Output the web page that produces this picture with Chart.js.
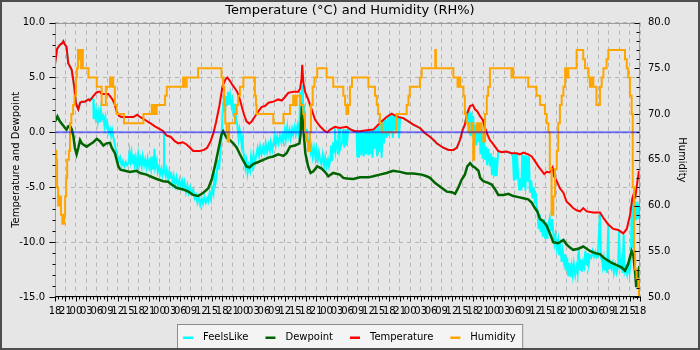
<!DOCTYPE html>
<html>
<head>
<meta charset="utf-8">
<title>Temperature and Humidity</title>
<script src="https://cdn.jsdelivr.net/npm/chart.js@4/dist/chart.umd.min.js"></script>
<style>
  html, body { margin: 0; padding: 0; background: #e6e6e6; }
  canvas { display: block; }
</style>
</head>
<body>
<canvas id="weather" width="700" height="350"></canvas>
<script>
// Hours since the first reading (18:00), seven days in all.
const hourTickLabels = [
  '18','21','00','03','06','09','12','15',
  '18','21','00','03','06','09','12','15',
  '18','21','00','03','06','09','12','15',
  '18','21','00','03','06','09','12','15',
  '18','21','00','03','06','09','12','15',
  '18','21','00','03','06','09','12','15',
  '18','21','00','03','06','09','12','15',
  '18'
];

const seriesLabels = ['FeelsLike', 'Dewpoint', 'Temperature', 'Humidity'];

// [hour, °C]
const temperature = [
  [0,6.2],[0.3,6.9],[0.6,7.6],[1,7.8],[1.5,8.0],[2,8.1],[2.4,8.3],[2.8,8.0],[3.3,7.8],[3.8,6.3],
  [4.3,6.0],[4.8,5.7],[5.5,4.2],[6,2.7],[6.4,2.3],[6.7,2.1],[7.2,2.7],[7.7,2.8],[8.6,2.8],[9.6,3.0],
  [10,2.9],[10.5,3.1],[11,3.3],[11.8,3.6],[12.4,3.7],[12.9,3.7],[13.4,3.5],[15.3,3.5],[15.8,3.3],[16.5,3.0],
  [17.2,2.5],[17.7,1.9],[18.4,1.5],[19.1,1.4],[22.5,1.4],[23.6,1.6],[24.4,1.4],[25.8,1.15],[27.3,0.85],[28.7,0.55],
  [30.1,0.3],[31.1,0.1],[32.1,-0.3],[33.2,-0.4],[34.4,-0.8],[35.4,-1.0],[36.7,-0.9],[37.8,-1.1],[38.8,-1.4],[39.7,-1.7],
  [41.6,-1.7],[42.8,-1.6],[43.7,-1.4],[44.7,-0.8],[45.5,-0.06],[46.2,0.85],[47.2,2.4],[48.1,4.2],[49,4.85],[49.5,5.0],
  [50.2,4.7],[51,4.3],[51.7,4.0],[52.3,3.7],[53.1,3.0],[53.6,2.4],[54.3,1.6],[55,1.0],[55.8,0.8],[56.5,1.0],
  [57.4,1.45],[58.4,1.9],[59.3,2.3],[60.3,2.4],[61.3,2.7],[62.7,2.8],[64.1,3.0],[65.1,2.9],[66,3.2],[67,3.6],
  [68.4,3.7],[69.9,3.7],[70.4,4.0],[70.8,4.9],[71,6.15],[71.3,4.6],[71.8,3.7],[72.7,3.0],[73.7,2.1],[74.7,1.15],
  [76.1,0.55],[77.5,0.1],[78.2,0.0],[79,0.25],[80.4,0.5],[81.8,0.4],[83.8,0.5],[84.7,0.3],[86.1,0.1],[87.6,0.1],
  [89.5,0.2],[91.4,0.25],[92.4,0.55],[93.8,1.0],[95.2,1.4],[96.7,1.7],[97.3,1.6],[98.6,1.4],[100,1.3],[101.5,1.0],
  [102.9,0.7],[104.8,0.4],[106.2,-0.06],[107.7,-0.4],[109.1,-0.8],[109.6,-1.0],[111.5,-1.4],[113,-1.6],[114.4,-1.6],[115.4,-1.4],
  [116.3,-0.7],[117.1,0.25],[117.7,0.7],[118.4,1.75],[119.2,2.4],[120,2.5],[120.6,2.1],[121.3,1.9],[122.1,1.45],[122.8,1.15],
  [123.5,0.4],[124.2,-0.2],[124.9,-0.7],[125.9,-1.1],[127.3,-1.7],[128.3,-1.8],[129.7,-1.75],[131.1,-1.9],[132.6,-1.9],[133.5,-2.0],
  [134.5,-1.85],[135.9,-2.0],[136.9,-2.2],[137.8,-2.6],[138.8,-3.1],[139.8,-3.5],[140.5,-3.8],[141.2,-3.6],[142.1,-3.65],[142.9,-3.2],
  [143.3,-4.0],[144.1,-4.45],[145,-5.1],[146,-5.5],[146.9,-6.3],[147.9,-6.6],[148.8,-6.9],[149.8,-7.1],[150.8,-7.2],[151.7,-6.9],
  [152.7,-7.2],[154.6,-7.3],[156.5,-7.3],[157.5,-7.8],[158.9,-8.4],[160.3,-8.8],[161.8,-8.9],[163.2,-9.2],[164.2,-8.8],[165.1,-7.6],
  [165.8,-6.0],[166.3,-5.5],[166.7,-5.8],[167.2,-4.6],[167.7,-3.5]
];

// [hour, °C]
const dewpoint = [
  [0,1.0],[0.3,1.15],[0.7,1.45],[1.4,1.0],[2.4,0.6],[2.9,0.4],[3.3,0.25],[3.8,0.55],[4.3,0.6],[4.8,0.3],
  [5.3,-0.4],[5.7,-1.4],[6.2,-2.0],[6.7,-1.4],[7.2,-0.7],[7.7,-1.0],[8.1,-1.1],[9.1,-1.3],[10,-1.1],[11,-0.9],
  [12,-0.6],[12.9,-0.8],[13.9,-1.2],[14.8,-1.0],[15.8,-0.95],[16.3,-1.4],[17.2,-1.9],[17.7,-2.5],[18.2,-3.1],[18.8,-3.4],
  [20.1,-3.5],[21.5,-3.6],[23.4,-3.5],[24.4,-3.7],[26.3,-3.85],[27.3,-4.0],[29.2,-4.25],[31.1,-4.45],[32.5,-4.5],[33.5,-4.75],
  [34.9,-5.05],[36.8,-5.2],[38.3,-5.4],[39.7,-5.7],[41.1,-5.8],[42.6,-5.5],[44,-5.1],[45,-4.3],[45.9,-3.1],[46.9,-1.6],
  [47.8,-0.2],[48.3,0.1],[49.3,-0.5],[50.2,-0.7],[51.2,-1.0],[52.2,-1.4],[53.1,-2.0],[54.1,-2.6],[55,-3.1],[55.8,-3.2],
  [56.9,-2.9],[58.4,-2.7],[59.8,-2.5],[61.3,-2.3],[62.7,-2.2],[64.1,-2.0],[65.6,-2.15],[66.5,-1.9],[67.5,-1.3],[68.9,-1.2],
  [70.2,-1.0],[70.5,-0.2],[70.8,1.75],[71.1,1.15],[71.5,-0.4],[71.9,-1.9],[72.7,-3.1],[73.4,-3.7],[74.2,-3.55],[75.3,-3.1],
  [76.6,-3.3],[77.8,-3.7],[78.5,-4.0],[79.9,-3.7],[81.8,-3.85],[82.8,-4.15],[83.8,-4.2],[85.7,-4.25],[87.6,-4.1],[90,-4.1],
  [91.4,-4.0],[93.3,-3.85],[95.2,-3.7],[97.1,-3.5],[99.1,-3.6],[101,-3.75],[102.9,-3.75],[105.3,-3.85],[106.7,-4.0],[107.7,-4.15],
  [109.1,-4.6],[111,-5.05],[112.5,-5.4],[114,-5.45],[114.9,-5.6],[115.8,-5.05],[116.8,-4.3],[117.7,-3.85],[118.4,-3.1],[119.2,-2.8],
  [120,-3.1],[120.6,-3.2],[121.6,-3.5],[122.1,-4.15],[123,-4.45],[124.4,-4.6],[125.4,-4.75],[126.4,-5.2],[127.3,-5.7],[128.8,-5.7],
  [130.2,-5.6],[131.6,-5.8],[133.1,-5.9],[134.5,-6.0],[135.9,-6.1],[136.9,-6.4],[137.8,-6.9],[138.5,-7.2],[139.3,-7.9],[140.2,-8.1],
  [141.2,-8.5],[142.1,-9.2],[143.1,-10.0],[144.5,-10.1],[146,-9.8],[146.9,-10.2],[147.9,-10.5],[148.8,-10.7],[150.3,-10.6],[151.7,-10.4],
  [152.7,-10.6],[153.6,-10.8],[155.1,-11.0],[156.5,-11.1],[157.5,-11.4],[158.4,-11.6],[159.9,-11.9],[161.3,-12.1],[162.7,-12.3],[163.7,-12.6],
  [164.6,-12.0],[165.6,-10.8],[166.1,-11.2],[166.6,-12.8],[166.9,-14.0],[167.2,-14.0],[167.5,-12.8],[167.8,-12.2]
];

// [hour, °C]
const feelsLike = [
  [0,6.2],[0.6,7.6],[1,7.8],[2,8.1],[2.4,8.3],[3.3,7.8],[3.8,6.3],[4.8,5.7],[5.5,4.2],[6,2.7],
  [6.7,2.1],[7.2,2.7],[8.6,2.8],[9.6,3.0],[10.5,3.1],[11,3.0],[11.1,1.2],[11.4,2.0],[11.7,1.3],[12,1.9],
  [12.3,1.0],[12.6,1.8],[12.9,0.9],[13.2,2.0],[13.5,1.2],[13.9,1.5],[14.2,0.6],[14.5,1.3],[14.8,0.5],[15.1,0.7],
  [15.4,0.0],[15.8,0.3],[16.1,-0.3],[16.4,0.2],[16.7,-0.4],[17,-0.8],[17.3,-1.3],[17.7,-1.9],[18,-2.2],[18.4,-2.6],
  [18.7,-2.3],[19.1,-3.0],[19.5,-2.6],[19.9,-3.1],[20.3,-2.7],[20.7,-3.0],[21.1,-2.8],[21.4,-1.8],[21.7,-2.6],[22,-1.9],
  [22.3,-2.9],[22.6,-2.0],[22.9,-3.0],[23.2,-2.3],[23.6,-3.2],[23.9,-2.1],[24.2,-2.9],[24.5,-2.4],[24.9,-3.1],[25.2,-2.2],
  [25.6,-3.0],[25.9,-2.5],[26.3,-3.2],[26.6,-2.4],[27,-3.1],[27.3,-2.6],[27.6,-3.3],[27.9,-2.2],[28.2,-3.4],[28.6,-1.5],
  [28.8,-3.2],[29.2,-2.6],[29.5,-3.6],[29.9,-3.1],[30.2,-3.8],[30.6,-3.3],[30.9,-3.9],[31.2,-3.5],[31.3,0.0],[31.4,-3.4],
  [31.8,-4.0],[32.1,-3.4],[32.5,-4.2],[32.8,-3.6],[33,-4.1],[33.4,-3.8],[33.8,-4.6],[34.1,-4.0],[34.5,-4.8],[34.9,-4.1],
  [35.3,-4.9],[35.7,-4.3],[36.1,-4.9],[36.5,-4.4],[36.8,-5.0],[37.2,-4.5],[37.6,-5.4],[38,-4.8],[38.4,-5.5],[38.8,-5.0],
  [39.2,-5.6],[39.7,-5.2],[40.1,-6.0],[40.5,-5.7],[40.9,-6.4],[41.3,-5.9],[41.7,-6.6],[42.1,-6.0],[42.5,-6.5],[42.9,-5.9],
  [43.3,-6.4],[43.7,-6.0],[44,-6.3],[44.4,-5.5],[44.8,-6.1],[45.1,-5.1],[45.5,-5.6],[45.8,-4.0],[46.1,-4.6],[46.4,-3.9],
  [46.8,-2.5],[47.1,-3.4],[47.5,-1.8],[47.8,-0.6],[48.1,1.6],[48.4,2.8],[48.8,1.8],[49.1,3.3],[49.4,2.4],[49.7,3.7],
  [50,2.5],[50.3,3.4],[50.7,2.4],[51,2.9],[51.3,1.4],[51.7,2.6],[52,1.2],[52.4,0.6],[52.7,-0.5],[53,0.3],
  [53.3,-0.2],[53.6,-1.2],[53.9,-0.6],[54.1,-1.8],[54.4,-2.3],[54.7,-3.2],[55,-2.6],[55.3,-3.7],[55.6,-3.0],[56,-3.5],
  [56.3,-2.2],[56.7,-3.0],[57,-2.0],[57.4,-2.8],[57.9,-1.9],[58.2,-1.4],[58.6,-2.1],[58.9,-1.3],[59.3,-2.0],[59.8,-1.3],
  [60.2,-1.8],[60.5,-1.0],[60.9,-1.8],[61.3,-1.1],[61.7,-1.7],[62,-0.9],[62.4,-1.6],[62.7,-1.0],[63.1,-0.3],[63.4,-1.1],
  [63.8,-0.4],[64.2,-1.0],[64.6,-0.3],[65,-0.9],[65.3,-0.3],[65.6,-0.8],[66,0.2],[66.3,-0.6],[66.7,0.5],[67,-0.4],
  [67.4,0.2],[67.7,-0.5],[68.1,0.3],[68.4,-0.2],[68.8,0.5],[69.2,-0.1],[69.6,0.6],[69.9,0.0],[70.2,1.0],[70.4,3.7],
  [70.6,2.0],[70.8,3.2],[71,4.3],[71.2,1.4],[71.5,2.5],[71.8,0.6],[72.1,-0.3],[72.3,0.3],[72.7,-1.0],[73,-0.8],
  [73.4,-1.8],[73.7,-1.3],[74,-2.2],[74.4,-1.4],[74.8,-2.4],[75.1,-1.6],[75.5,-2.5],[75.8,-1.8],[76.1,-2.4],[76.5,-2.9],
  [76.9,-2.0],[77.3,-3.0],[77.6,-2.3],[78,-3.1],[78.4,-2.5],[78.7,-3.1],[79,-2.6],[79.3,-1.2],[79.6,-2.6],[79.9,-0.9],
  [80.2,-1.8],[80.4,0.4],[80.6,-1.7],[81,-1.0],[81.4,-1.6],[81.6,0.3],[81.8,-1.6],[82.4,-1.0],[82.8,0.3],[83.1,-1.4],
  [83.5,0.3],[83.8,-1.2],[84.2,0.2],[84.7,0.3],[86.1,0.1],[86.6,0.1],[86.8,-2.2],[87,0.0],[87.3,-2.3],[87.6,0.1],
  [88,-2.1],[88.3,0.1],[88.7,-2.2],[89,0.1],[89.3,-2.0],[89.6,0.2],[90,-2.1],[90.3,0.2],[90.6,-2.0],[90.9,0.2],
  [91.2,-2.3],[91.5,0.2],[91.8,-1.5],[92.1,0.4],[92.5,-2.2],[92.8,0.6],[93.1,-1.8],[93.5,0.8],[93.8,-2.3],[94.2,1.0],
  [94.5,-1.0],[94.8,1.2],[95.2,-0.5],[95.5,1.4],[95.8,-0.3],[96.1,1.6],[96.4,0.0],[96.7,1.7],[97,-0.5],[97.4,1.6],
  [97.7,0.2],[98.1,1.5],[98.6,1.4],[98.8,-0.5],[99.1,1.3],[100,1.3],[101.5,1.0],[102.9,0.7],[104.8,0.4],[106.2,-0.06],
  [107.7,-0.4],[109.6,-1.0],[111.5,-1.4],[113,-1.6],[114.4,-1.6],[115.4,-1.4],[116.3,-0.7],[117.1,0.25],[117.7,0.7],[118.4,1.75],
  [118.7,1.0],[119,2.0],[119.3,-0.3],[119.6,1.8],[119.9,-0.4],[120.1,1.5],[120.4,-1.1],[120.7,0.7],[121,-1.2],[121.3,0.5],
  [121.6,-0.9],[121.9,0.4],[122.2,-2.0],[122.5,0.2],[122.8,-2.4],[123.1,-0.5],[123.5,-2.5],[123.8,-1.3],[124.1,-3.0],[124.4,-1.5],
  [124.9,-3.1],[125.2,-1.9],[125.5,-3.9],[125.8,-2.2],[126.2,-4.0],[126.5,-2.3],[126.8,-4.0],[127.3,-1.7],[128.3,-1.8],[129.7,-1.8],
  [131.1,-1.9],[131.5,-2.2],[131.8,-4.4],[132.1,-1.9],[132.4,-4.3],[132.7,-2.0],[133,-4.0],[133.3,-5.3],[133.6,-4.2],[133.9,-5.3],
  [134.2,-2.0],[134.5,-5.0],[134.8,-2.1],[135.1,-5.3],[135.4,-2.1],[135.8,-4.5],[136.1,-2.2],[136.4,-5.5],[136.8,-4.4],[137.1,-6.0],
  [137.5,-5.0],[137.8,-6.5],[138.1,-5.5],[138.3,-6.7],[138.6,-7.2],[138.9,-8.8],[139.2,-7.5],[139.5,-9.1],[139.8,-8.0],[140.1,-9.5],
  [140.4,-7.9],[140.8,-9.7],[141.1,-8.2],[141.4,-9.7],[141.7,-8.5],[142.1,-7.8],[142.4,-9.0],[142.8,-7.9],[143.1,-9.2],[143.4,-10.1],
  [143.7,-9.4],[144.1,-10.6],[144.5,-9.8],[144.8,-11.2],[145.1,-10.4],[145.5,-11.8],[145.8,-10.8],[146.2,-11.9],[146.5,-11.1],[146.8,-12.6],
  [147.1,-11.4],[147.4,-13.1],[147.8,-11.9],[148.1,-13.2],[148.4,-12.2],[148.7,-13.0],[149,-12.0],[149.4,-13.0],[149.8,-12.2],[150.1,-12.8],
  [150.4,-10.7],[150.8,-12.6],[151.1,-11.6],[151.4,-12.7],[151.7,-11.8],[152,-12.2],[152.3,-10.8],[152.7,-12.1],[153,-11.0],[153.3,-12.0],
  [153.6,-11.2],[154,-11.4],[154.4,-10.8],[154.8,-11.3],[155.2,-10.9],[155.5,-11.4],[155.9,-11.3],[156.5,-7.3],[156.8,-11.5],[157,-11.3],
  [157.3,-12.2],[157.6,-11.5],[157.9,-12.6],[158.2,-11.7],[158.5,-12.8],[158.9,-8.4],[159.1,-12.5],[159.4,-11.9],[159.8,-12.4],[160.2,-11.9],
  [160.5,-12.8],[160.9,-12.1],[161.3,-12.8],[161.7,-12.2],[162,-8.9],[162.3,-12.5],[162.7,-11.7],[163,-12.8],[163.3,-9.3],[163.6,-12.7],
  [164,-12.3],[164.3,-12.9],[164.7,-12.0],[165,-12.8],[165.4,-11.5],[165.6,-6.5],[165.8,-10.5],[166.1,-6.8],[166.4,-7.2],[166.6,-6.8],
  [166.9,-8.0],[167.2,-6.3],[167.5,-7.8],[167.7,-6.5]
];

// [hour, RH%] — each reading holds until the next one
const humidity = [
  [0,66],[0.4,65],[0.6,62],[0.9,60],[1.3,61],[1.7,59],[2.1,58],[2.6,59],[2.9,61],[3.2,63],
  [3.5,65],[4,66],[4.3,69],[4.7,70],[5.2,71],[5.6,72],[6,74],[6.3,75],[6.6,77],[6.9,76],
  [7.2,77],[7.5,75],[7.8,77],[8,75],[9.6,74],[12,73],[13.4,71],[14.6,73],[15.8,74],[16.1,73],
  [16.4,74],[16.7,73],[17.2,71],[17.7,70],[19.8,69],[25.4,70],[27.8,71],[28.1,70],[28.5,71],[28.8,70],
  [29.2,71],[31.6,72],[32.1,73],[36.8,74],[37.2,73],[37.8,74],[41.1,75],[47.8,74],[48.3,73],[48.6,71],
  [48.9,69],[49.3,68],[49.6,67],[50,69],[51.7,70],[52.2,71],[52.6,72],[53.1,73],[54.1,74],[57.4,72],
  [57.7,71],[57.9,70],[62.7,69],[65.6,70],[67.5,71],[68.4,72],[68.9,71],[69.4,72],[70.4,71],[71.3,70],
  [71.8,68],[72.3,67],[72.7,66],[73.2,68],[73.5,71],[74,73],[74.5,74],[75.3,75],[78,74],[79.9,73],
  [82.8,72],[83.3,71],[83.7,70],[84.2,71],[84.7,73],[85.3,74],[90,73],[91.9,72],[92.4,71],[92.8,70],
  [93.3,69],[93.8,68],[98.1,70],[101,71],[101.5,72],[101.9,73],[104.8,74],[105.3,75],[109.2,77],[109.4,75],
  [114.4,74],[115.6,73],[116,74],[116.4,73],[117.3,72],[117.7,70],[118.2,69],[118.7,68],[119.6,69],[120.1,65],
  [120.4,68],[121.1,69],[121.5,68],[121.9,69],[122.5,68],[123,67],[123.5,70],[124,72],[124.4,73],[124.9,75],
  [131.1,74],[131.4,75],[131.6,74],[135.9,73],[138.3,72],[139.3,71],[140.7,70],[141.2,69],[141.7,68],[142.1,64],
  [142.6,59],[143.1,61],[143.6,64],[144.1,66],[144.5,69],[145,71],[145.5,72],[146,73],[146.5,75],[146.9,74],
  [147.4,75],[149.8,77],[151.7,76],[152.2,75],[153.2,74],[153.6,73],[154.1,74],[154.6,73],[155.5,71],[156.5,73],
  [157,74],[157.5,75],[158.4,76],[158.9,77],[163.7,76],[164.2,75],[164.6,74],[165.1,72],[165.6,70],[165.9,62],
  [166.3,55],[166.6,53],[167,52],[167.5,51],[167.7,50]
];

// Freezing reference line, [hour, °C]
const freezingLine = [[0,0],[168,0]];

const FONT = '"DejaVu Sans", "Liberation Sans", sans-serif';
Chart.defaults.font.family = FONT;
Chart.defaults.color = '#000';

const toPoints = rows => rows.map(([x, y]) => ({ x, y }));

// Axis ticks (hourly / whole-unit minor marks), plot frame, boxed legend and outer border.
const chartFrame = {
  id: 'chartFrame',
  beforeDraw(chart) {
    const c = chart.ctx;
    c.save();
    c.fillStyle = '#e6e6e6';
    c.fillRect(0, 0, chart.width, chart.height);
    c.restore();
  },
  afterDraw(chart) {
    const c = chart.ctx;
    const a = chart.chartArea;
    const { x, y, y1 } = chart.scales;
    const line = (x0, y0, x1, y1_) => { c.beginPath(); c.moveTo(x0, y0); c.lineTo(x1, y1_); c.stroke(); };
    const L = Math.round(a.left) + 0.5, R = Math.round(a.right) - 0.5;
    const T = Math.round(a.top) + 0.5, B = Math.round(a.bottom) - 0.5;
    c.save();
    c.lineWidth = 1;
    c.strokeStyle = '#9c9c9c';
    c.strokeRect(L, T, R - L, B - T);
    c.strokeStyle = '#000';
    line(L, B, R, B);

    for (let h = x.min; h <= x.max; h++) {
      const px = Math.round(x.getPixelForValue(h)) + 0.5;
      line(px, B, px, B + (h % 3 === 0 ? 5 : 3));
    }
    for (let v = y.min; v <= y.max; v++) {
      const py = Math.round(y.getPixelForValue(v)) + 0.5;
      line(L - (v % 5 === 0 ? 6 : 3), py, L, py);
    }
    for (let v = y1.min; v <= y1.max; v++) {
      const py = Math.round(y1.getPixelForValue(v)) + 0.5;
      line(R - (v % 5 === 0 ? 5 : 3), py, R, py);
    }

    // legend
    const items = chart.data.datasets.filter(d => d.inLegend);
    c.font = '10px ' + FONT;
    const widths = items.map(d => c.measureText(d.label).width);
    const padL = 5.5, padR = 7, mark = 10, gap = 10, between = 17;
    const total = padL + padR + widths.reduce((s, w) => s + mark + gap + w, 0) + between * (items.length - 1);
    const bx = Math.round(chart.width / 2 - total / 2) + 0.5;
    const by = 324.5;
    c.fillStyle = '#f4f4f4';
    c.fillRect(bx, by, total, 30);
    c.strokeStyle = '#8c8c8c';
    c.strokeRect(bx, by, total, 30);
    let cx = bx + padL;
    const cy = 337;
    c.textBaseline = 'middle';
    c.textAlign = 'left';
    items.forEach((d, i) => {
      c.fillStyle = d.borderColor;
      c.fillRect(cx, cy - 0.5, mark, 2.5);
      c.fillStyle = '#000';
      c.fillText(d.label, cx + mark + gap, cy);
      cx += mark + gap + widths[i] + between;
    });

    // outer border
    c.strokeStyle = '#4d4d4d';
    c.lineWidth = 2;
    c.strokeRect(1, 1, chart.width - 2, chart.height - 2);
    c.restore();
  }
};

new Chart(document.getElementById('weather'), {
  type: 'line',
  data: {
    datasets: [
      { label: seriesLabels[0], data: toPoints(feelsLike), borderColor: '#00ffff', backgroundColor: '#00ffff',
        borderWidth: 2, yAxisID: 'y', order: 4, inLegend: true },
      { label: seriesLabels[1], data: toPoints(dewpoint), borderColor: '#006400', backgroundColor: '#006400',
        borderWidth: 2.5, yAxisID: 'y', order: 3, inLegend: true },
      { label: seriesLabels[2], data: toPoints(temperature), borderColor: '#ff0000', backgroundColor: '#ff0000',
        borderWidth: 2, yAxisID: 'y', order: 2, inLegend: true },
      { label: seriesLabels[3], data: toPoints(humidity), borderColor: '#ffa500', backgroundColor: '#ffa500',
        borderWidth: 2, yAxisID: 'y1', order: 1, stepped: true, inLegend: true },
      { label: '0 °C', data: toPoints(freezingLine), borderColor: 'rgba(0,0,255,0.5)',
        borderWidth: 2, yAxisID: 'y', order: 0, inLegend: false }
    ]
  },
  options: {
    responsive: false,
    animation: false,
    devicePixelRatio: 1,
    elements: { point: { radius: 0 }, line: { tension: 0, borderCapStyle: 'butt', borderJoinStyle: 'miter' } },
    layout: { padding: { left: 0, right: 0, top: 0, bottom: 28 } },
    plugins: {
      legend: { display: false },
      tooltip: { enabled: false },
      title: {
        display: true,
        text: 'Temperature (°C) and Humidity (RH%)',
        color: '#000',
        font: { size: 13, weight: 'normal', family: FONT },
        padding: { top: 3, bottom: 4 }
      }
    },
    scales: {
      x: {
        type: 'linear',
        min: 0,
        max: 168,
        afterFit: s => { s.height = 25; },
        ticks: {
          stepSize: 3,
          maxTicksLimit: 1000,
          autoSkip: false,
          maxRotation: 0,
          minRotation: 0,
          padding: 8,
          font: { size: 10 },
          color: '#000',
          callback: v => hourTickLabels[Math.round(v / 3)]
        },
        grid: { color: '#b4b4b4', drawTicks: false, lineWidth: 1 },
        border: { display: false, dash: [4, 4] }
      },
      y: {
        type: 'linear',
        position: 'left',
        min: -15,
        max: 10,
        afterFit: s => { s.width = 55; },
        ticks: { stepSize: 5, padding: 10, font: { size: 10 }, color: '#000', callback: v => v.toFixed(1) },
        grid: { color: '#b4b4b4', drawTicks: false },
        border: { display: false, dash: [4, 4] },
        title: { display: true, text: 'Temperature and Dewpoint', font: { size: 10 }, color: '#000', padding: { top: 10, bottom: 0 } }
      },
      y1: {
        type: 'linear',
        position: 'right',
        min: 50,
        max: 80,
        afterFit: s => { s.width = 60; },
        ticks: { stepSize: 5, padding: 8, font: { size: 10 }, color: '#000', callback: v => v.toFixed(1) },
        grid: { drawOnChartArea: false, drawTicks: false },
        border: { display: false },
        title: { display: true, text: 'Humidity', font: { size: 10 }, color: '#000', padding: { top: 12, bottom: 0 } }
      }
    }
  },
  plugins: [chartFrame]
});
</script>
</body>
</html>
